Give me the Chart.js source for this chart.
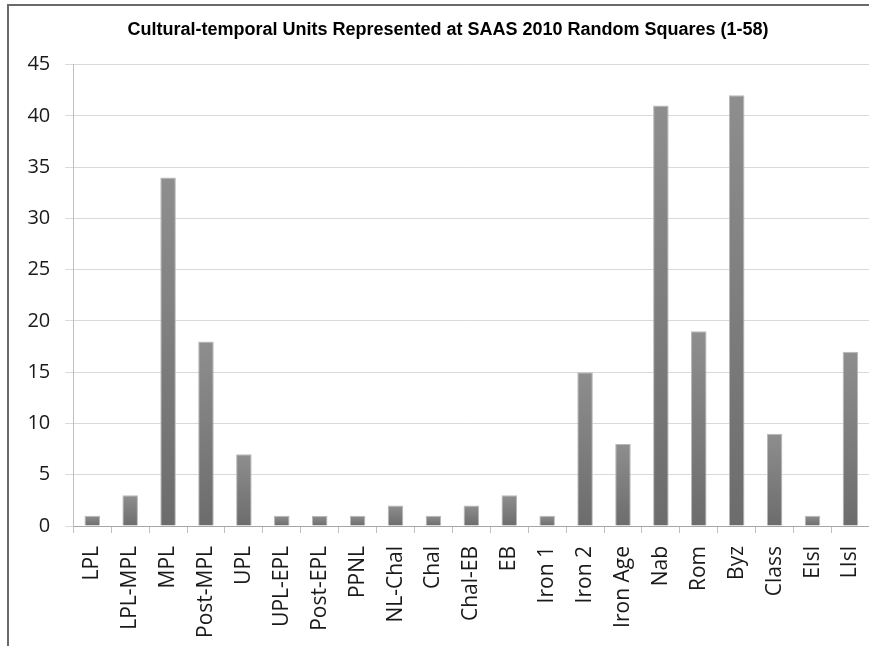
<!DOCTYPE html>
<html>
<head>
<meta charset="utf-8">
<script src="https://cdn.jsdelivr.net/npm/chart.js@4/dist/chart.umd.min.js"></script>
<style>
  html, body { margin: 0; padding: 0; background: #fff; overflow: hidden; }
  #frame {
    position: absolute; left: 7px; top: 4px;
    width: 880px; height: 660px;
    border: 2px solid #6a6a6a;
    background: #fff;
  }
  #c { display: block; }
</style>
</head>
<body>
<div id="frame"><canvas id="c" width="880" height="660"></canvas></div>
<script>
// Cultural-temporal units and square counts
const categories = ["LPL", "LPL-MPL", "MPL", "Post-MPL", "UPL", "UPL-EPL", "Post-EPL", "PPNL",
  "NL-Chal", "Chal", "Chal-EB", "EB", "Iron 1", "Iron 2", "Iron Age", "Nab", "Rom", "Byz",
  "Class", "EIsl", "LIsl"];
const counts = [1, 3, 34, 18, 7, 1, 1, 1, 2, 1, 2, 3, 1, 15, 8, 41, 19, 42, 9, 1, 17];
const yTicks = [0, 5, 10, 15, 20, 25, 30, 35, 40, 45];
const chartTitle = "Cultural-temporal Units Represented at SAAS 2010 Random Squares (1-58)";

// Vertical gradient per bar: lighter at the top, darker at the base
function barFill(ctx) {
  const chart = ctx.chart;
  const yScale = chart.scales.y;
  if (!yScale || ctx.type !== 'data') return '#7f7f7f';
  const top = yScale.getPixelForValue(ctx.raw);
  const bottom = yScale.getPixelForValue(0);
  if (!isFinite(top) || !isFinite(bottom) || top === bottom) return '#7f7f7f';
  const g = chart.ctx.createLinearGradient(0, top, 0, bottom);
  g.addColorStop(0, '#8e8e8e');
  g.addColorStop(1, '#6c6c6c');
  return g;
}

new Chart(document.getElementById('c'), {
  type: 'bar',
  data: {
    labels: categories,
    datasets: [{
      data: counts,
      backgroundColor: barFill,
      borderColor: '#b8b8b8',
      borderWidth: 1,
      barPercentage: 0.41,
      categoryPercentage: 1.0
    }]
  },
  options: {
    responsive: false,
    animation: false,
    devicePixelRatio: 1,
    layout: { padding: { left: 13.6, right: 15.6, top: 0, bottom: 0 } },
    plugins: {
      legend: { display: false },
      tooltip: { enabled: false },
      title: {
        display: true,
        text: chartTitle,
        color: '#000',
        font: { family: 'Liberation Sans', size: 18, weight: 'bold' },
        padding: { top: 13, bottom: 24 }
      }
    },
    scales: {
      x: {
        offset: true,
        grid: {
          offset: true,
          drawOnChartArea: false,
          drawTicks: true,
          tickLength: 7,
          color: '#bfbfbf'
        },
        border: { color: '#a6a6a6', width: 1 },
        ticks: {
          autoSkip: false,
          maxRotation: 90,
          minRotation: 90,
          padding: 13,
          color: '#1a1a1a',
          font: { family: 'Open Sans', size: 21 }
        },
        afterFit(scale) { scale.height = 140; }
      },
      y: {
        min: 0,
        max: 45,
        afterBuildTicks(scale) { scale.ticks = yTicks.map(v => ({ value: v })); },
        grid: {
          color: '#d9d9d9',
          drawTicks: true,
          tickLength: 8
        },
        border: { color: '#bfbfbf', width: 1 },
        ticks: {
          padding: 15,
          color: '#1a1a1a',
          font: { family: 'Open Sans', size: 20 }
        },
        afterFit(scale) { scale.width = 50.7; }
      }
    }
  }
});
</script>
</body>
</html>
